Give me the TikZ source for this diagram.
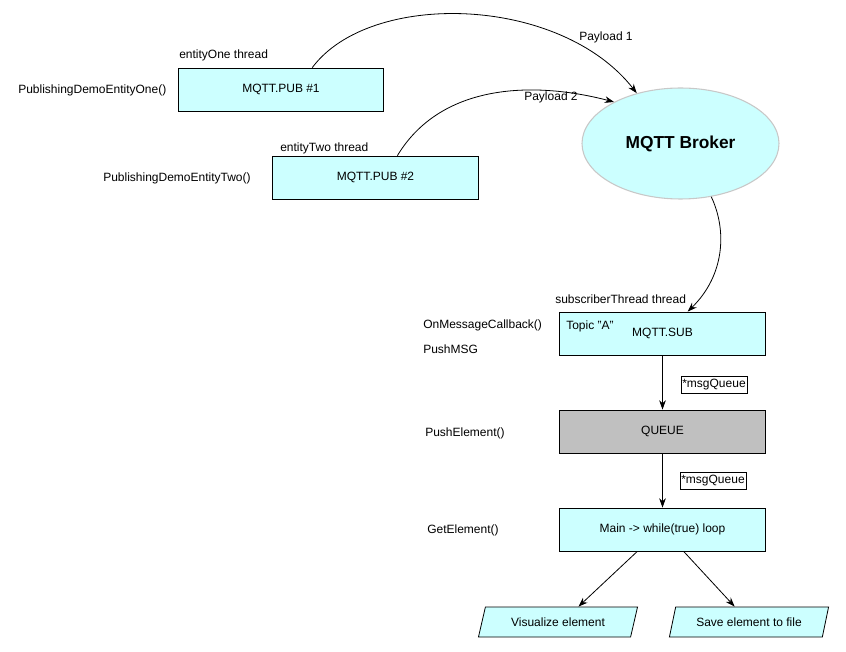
\documentclass[tikz,border=0pt]{standalone}
\usepackage{fontspec}
\setmainfont{Liberation Sans}
\usetikzlibrary{arrows.meta,shapes.geometric}
\definecolor{boxcyan}{HTML}{CCFFFF}
\definecolor{queuegray}{HTML}{C0C0C0}
\definecolor{rimgray}{HTML}{C8C8C8}
\begin{document}
\begin{tikzpicture}[x=0.75pt,y=0.75pt,font=\fontsize{9}{11}\selectfont,
    >={Stealth[length=7pt,width=5pt]},
    blockbox/.style={draw,fill=boxcyan,line width=0.6pt,minimum width=154pt,minimum height=32.25pt,inner sep=0pt},
    lbl/.style={inner sep=0pt,anchor=west},
    tagbox/.style={draw,fill=white,line width=0.5pt,inner sep=1pt,minimum height=12.75pt},
    outbox/.style={trapezium,trapezium left angle=63,trapezium right angle=117,trapezium stretches=true,
                   draw,fill=boxcyan,line width=0.6pt,minimum width=120pt,minimum height=22.5pt,inner sep=0pt},
    flow/.style={->,line width=0.6pt}]
       \useasboundingbox (0,0) rectangle (846,-652);

       % Publishers
       \node[blockbox] (pub1) at (281,-89.5) {MQTT.PUB \#1};
       \node[blockbox] (pub2) at (375.5,-177.5) {MQTT.PUB \#2};
       \node[lbl] (pub1thread) at (179,-55) {entityOne thread};
       \node[lbl] (pub2thread) at (280,-148) {entityTwo thread};
       \node[lbl] (pub1func) at (18,-90) {PublishingDemoEntityOne()};
       \node[lbl] (pub2func) at (103,-178) {PublishingDemoEntityTwo()};

       % Broker
       \node[ellipse,draw=rimgray,fill=boxcyan,line width=0.8pt,minimum width=147.75pt,minimum height=83.25pt,
             font=\fontsize{13}{15}\selectfont\bfseries] (broker) at (680.5,-143.5) {MQTT Broker};

       % Subscriber side
       \node[blockbox] (sub) at (662.5,-333.5) {MQTT.SUB};
       \node[lbl] (topic) at (566,-326) {Topic "A"};
       \node[lbl] (subthread) at (555,-299) {subscriberThread thread};
       \node[lbl] (callback) at (423,-325) {OnMessageCallback()};
       \node[lbl] (pushmsg) at (423,-349) {PushMSG};

       \node[blockbox,fill=queuegray] (queue) at (662.5,-431.5) {QUEUE};
       \node[lbl] (pushelem) at (425,-433) {PushElement()};

       \node[blockbox] (main) at (662.5,-529.5) {Main -> while(true) loop};
       \node[lbl] (getelem) at (427,-530) {GetElement()};

       \node[outbox] (viz) at (558,-622) {Visualize element};
       \node[outbox] (save) at (749,-622) {Save element to file};

       % Payload curves
       \draw[flow] (pub1.35) .. controls (370,10) and (560,5) .. (broker.131);
       \node (pay1) at (606,-37) {Payload 1};
       \draw[flow] (pub2.45) .. controls (440,-85) and (530,-80) .. (broker.148);
       \node (pay2) at (551,-97) {Payload 2};
       \draw[flow] (broker.-60) .. controls (727,-230) and (725,-275) .. (sub.41);

       % Queue flow
       \draw[flow] (sub) -- (queue);
       \node[tagbox] (tag1) at (714,-384.5) {*msgQueue};
       \draw[flow] (queue) -- (main);
       \node[tagbox] (tag2) at (713,-480.5) {*msgQueue};
       \draw[flow] (main.221) -- (viz.37);
       \draw[flow] (main.-46) -- (save.133);
      \end{tikzpicture}
\end{document}
